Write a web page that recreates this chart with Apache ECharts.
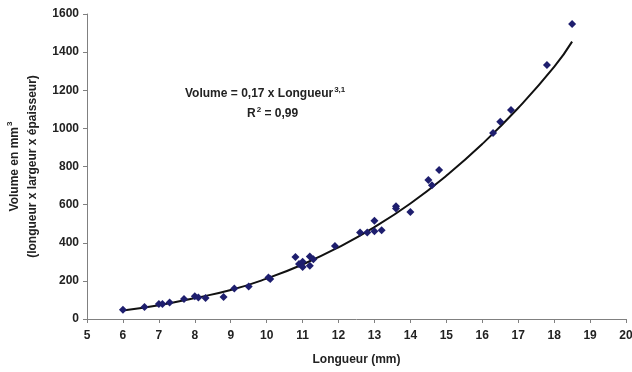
<!DOCTYPE html>
<html>
<head>
<meta charset="utf-8">
<script src="https://cdn.jsdelivr.net/npm/echarts@6/dist/echarts.min.js"></script>
<style>
  html, body { margin: 0; padding: 0; background: #fff; }
  #chart { width: 632px; height: 372px; }
</style>
</head>
<body>
<div id="chart"></div>
<script>
const longueurs = [6.0, 6.6, 7.0, 7.1, 7.3, 7.7, 8.0, 8.1, 8.3, 8.8, 9.1, 9.5, 10.05, 10.1,
  10.8, 10.9, 11.0, 11.0, 11.2, 11.2, 11.3, 11.9, 12.6, 12.8, 13.0, 13.0, 13.2, 13.6, 13.6,
  14.0, 14.5, 14.6, 14.8, 16.3, 16.5, 16.8, 17.8, 18.5];
const volumes = [48, 63, 79, 79, 87, 105, 120, 113, 110, 115, 160, 171, 218, 210,
  325, 289, 300, 273, 328, 280, 313, 383, 454, 454, 460, 516, 465, 591, 580,
  561, 729, 701, 782, 976, 1035, 1097, 1333, 1548];

// courbe de tendance
const trendX = [6, 7, 8, 9, 10, 11, 12, 13, 14, 15, 16, 17, 18, 18.5];
const trendY = [45, 72, 110, 152, 212, 286, 376, 482, 606, 752, 918, 1107, 1322, 1455];

const xTicks = { min: 5, max: 20, step: 1 };
const yTicks = { min: 0, max: 1600, step: 200 };

const textColor = '#222';
const font = '"Liberation Sans", Arial, sans-serif';
const supStyle = { fontSize: 8, fontWeight: 'bold', fontFamily: font, color: textColor, verticalAlign: 'top', padding: [0, 0, 8, 1] };

const chart = echarts.init(document.getElementById('chart'));
chart.setOption({
  animation: false,
  grid: { left: 87, right: 6, top: 14, bottom: 53, outerBoundsMode: 'none', containLabel: false },
  xAxis: {
    type: 'value',
    min: xTicks.min,
    max: xTicks.max,
    interval: xTicks.step,
    splitLine: { show: false },
    axisLine: { lineStyle: { color: '#808080', width: 1 } },
    axisTick: { length: 4, lineStyle: { color: '#808080' } },
    axisLabel: { color: textColor, fontFamily: font, fontWeight: 'bold', fontSize: 12, margin: 11, formatter: (v) => String(v) },
    name: 'Longueur (mm)',
    nameLocation: 'middle',
    nameGap: 35,
    nameTextStyle: { color: textColor, fontFamily: font, fontWeight: 'bold', fontSize: 12 }
  },
  yAxis: {
    type: 'value',
    min: yTicks.min,
    max: yTicks.max,
    interval: yTicks.step,
    splitLine: { show: false },
    axisLine: { show: true, lineStyle: { color: '#808080', width: 1 } },
    axisTick: { show: true, length: 4, lineStyle: { color: '#808080' } },
    axisLabel: { color: textColor, fontFamily: font, fontWeight: 'bold', fontSize: 12, margin: 8, formatter: (v) => String(v) },
    name: 'Volume en mm{sup|3}\n(longueur x largeur x épaisseur)',
    nameLocation: 'middle',
    nameGap: 44,
    nameTextStyle: {
      color: textColor, fontFamily: font, fontWeight: 'bold', fontSize: 12, lineHeight: 18,
      rich: { sup: supStyle }
    }
  },
  graphic: [{
    type: 'text',
    left: 185,
    top: 86,
    style: {
      text: 'Volume = 0,17 x Longueur{sup|3,1}',
      font: 'bold 12px ' + font,
      fill: textColor,
      rich: { sup: { fontSize: 8, fontWeight: 'bold', fontFamily: font, fill: textColor, verticalAlign: 'top', padding: [0, 0, 8, 1] } }
    }
  }, {
    type: 'text',
    left: 247,
    top: 106,
    style: {
      text: 'R{sup|2} = 0,99',
      font: 'bold 12px ' + font,
      fill: textColor,
      rich: { sup: { fontSize: 8, fontWeight: 'bold', fontFamily: font, fill: textColor, verticalAlign: 'top', padding: [0, 0, 8, 1] } }
    }
  }],
  series: [{
    name: 'Tendance',
    type: 'line',
    smooth: true,
    showSymbol: false,
    lineStyle: { color: '#111', width: 2 },
    data: trendX.map((x, i) => [x, trendY[i]]),
    z: 2
  }, {
    name: 'Mesures',
    type: 'scatter',
    symbol: 'diamond',
    symbolSize: 8,
    itemStyle: { color: '#1e1e6e', opacity: 1 },
    data: longueurs.map((x, i) => [x, volumes[i]]),
    z: 3
  }]
});
</script>
</body>
</html>
